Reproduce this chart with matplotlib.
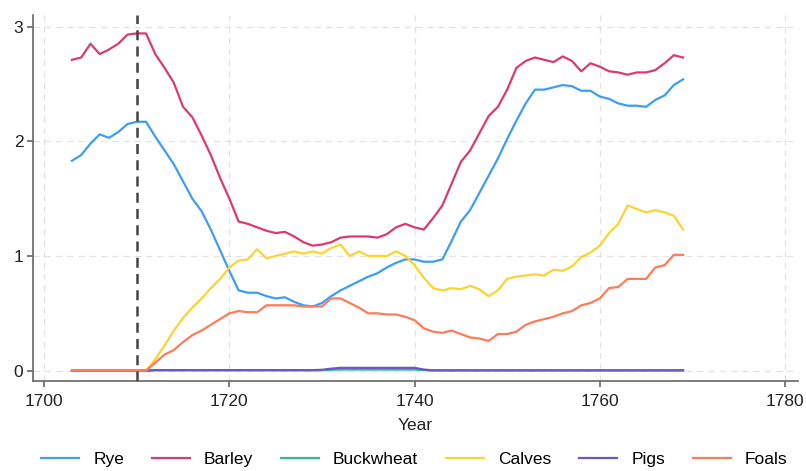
import numpy as np
import matplotlib
matplotlib.use("Agg")
import matplotlib.pyplot as plt

plt.rcParams['font.family'] = ['Liberation Sans', 'DejaVu Sans']

years = np.arange(1703, 1770)

rye = [1.83, 1.88, 1.98, 2.06, 2.03, 2.08, 2.15, 2.17, 2.17, 2.04,
       1.92, 1.80, 1.65, 1.50, 1.39, 1.23, 1.05, 0.87, 0.70, 0.68,
       0.68, 0.65, 0.63, 0.64, 0.60, 0.57, 0.56, 0.59, 0.65, 0.70,
       0.74, 0.78, 0.82, 0.85, 0.90, 0.94, 0.97, 0.97, 0.95, 0.95,
       0.97, 1.13, 1.30, 1.40, 1.55, 1.70, 1.85, 2.02, 2.18, 2.33,
       2.45, 2.45, 2.47, 2.49, 2.48, 2.44, 2.44, 2.39, 2.37, 2.33,
       2.31, 2.31, 2.30, 2.36, 2.40, 2.49, 2.54]

barley = [2.71, 2.73, 2.85, 2.76, 2.80, 2.85, 2.93, 2.94, 2.94, 2.76,
          2.64, 2.51, 2.30, 2.21, 2.05, 1.88, 1.68, 1.50, 1.30, 1.28,
          1.25, 1.22, 1.20, 1.21, 1.17, 1.12, 1.09, 1.10, 1.12, 1.16,
          1.17, 1.17, 1.17, 1.16, 1.19, 1.25, 1.28, 1.25, 1.23, 1.33,
          1.44, 1.63, 1.82, 1.92, 2.07, 2.22, 2.30, 2.45, 2.64, 2.70,
          2.73, 2.71, 2.69, 2.74, 2.70, 2.61, 2.68, 2.65, 2.61, 2.60,
          2.58, 2.60, 2.60, 2.62, 2.68, 2.75, 2.73]

buckwheat = [0.0] * 8 + [0.0, 0.004, 0.004, 0.004, 0.004, 0.004, 0.004,
             0.004, 0.004, 0.004, 0.004, 0.004, 0.004, 0.004, 0.004, 0.004,
             0.004, 0.004, 0.004, 0.004, 0.008, 0.010, 0.010, 0.010, 0.010,
             0.010, 0.010, 0.010, 0.010, 0.010, 0.005] + [0.003] * 28

calves = [0.0] * 9 + [0.10, 0.22, 0.35, 0.46, 0.55, 0.63, 0.72, 0.80,
          0.90, 0.96, 0.97, 1.06, 0.98, 1.00, 1.02, 1.04, 1.02, 1.04,
          1.02, 1.07, 1.10, 1.00, 1.04, 1.00, 1.00, 1.00, 1.04, 1.00,
          0.92, 0.81, 0.72, 0.70, 0.72, 0.71, 0.74, 0.71, 0.65, 0.70,
          0.80, 0.82, 0.83, 0.84, 0.83, 0.88, 0.87, 0.91, 0.99, 1.03,
          1.09, 1.20, 1.28, 1.44, 1.41, 1.38, 1.40, 1.38, 1.35, 1.23]

pigs = [0.0] * 8 + [0.0, 0.005, 0.005, 0.005, 0.005, 0.005, 0.005,
        0.005, 0.005, 0.005, 0.005, 0.005, 0.005, 0.005, 0.005, 0.005,
        0.005, 0.005, 0.005, 0.008, 0.018, 0.025, 0.025, 0.025, 0.025,
        0.025, 0.025, 0.025, 0.025, 0.025, 0.010] + [0.003] * 28

foals = [0.0] * 9 + [0.07, 0.14, 0.18, 0.25, 0.31, 0.35, 0.40, 0.45,
         0.50, 0.52, 0.51, 0.51, 0.57, 0.57, 0.57, 0.57, 0.56, 0.56,
         0.56, 0.63, 0.63, 0.59, 0.55, 0.50, 0.50, 0.49, 0.49, 0.47,
         0.44, 0.37, 0.34, 0.33, 0.35, 0.32, 0.29, 0.28, 0.26, 0.32,
         0.32, 0.34, 0.40, 0.43, 0.45, 0.47, 0.50, 0.52, 0.57, 0.59,
         0.63, 0.72, 0.73, 0.80, 0.80, 0.80, 0.90, 0.92, 1.01, 1.01]

series = [
    ("Rye", rye, "#3d9df5"),
    ("Barley", barley, "#dc3a6c"),
    ("Buckwheat", buckwheat, "#2cbf8d"),
    ("Calves", calves, "#fdd332"),
    ("Pigs", pigs, "#6a56c4"),
    ("Foals", foals, "#ff7b57"),
]

fig = plt.figure(figsize=(8.06, 4.71), dpi=100)
ax = fig.add_axes([0.041, 0.191, 0.949, 0.777])

for name, vals, col in series:
    ax.plot(years, vals, color=col, lw=1.6, label=name)

ax.axvline(1710, color="#444444", lw=1.8, ls=(0, (4, 2.5)), zorder=5)

ax.set_xlim(1698.8, 1781.4)
ax.set_ylim(-0.09, 3.1)
ax.set_xticks([1700, 1720, 1740, 1760, 1780])
ax.set_yticks([0, 1, 2, 3])
ax.grid(True, color="#e3e3e3", ls=(0, (5, 4)), lw=0.9)
ax.set_axisbelow(True)

for side in ("top", "right"):
    ax.spines[side].set_visible(False)
for side in ("left", "bottom"):
    ax.spines[side].set_color("#666666")
    ax.spines[side].set_linewidth(1.2)
ax.tick_params(colors="#666666", labelcolor="#222222", labelsize=12.5,
               length=4, width=1.2)
ax.tick_params(axis="x", pad=5)
ax.tick_params(axis="y", pad=3)

ax.set_xlabel("Year", fontsize=12.5, color="#222222", labelpad=7)

fig.legend(loc="center", bbox_to_anchor=(0.514, 0.024), ncol=6,
           frameon=False, fontsize=12.5, handlelength=2.2,
           columnspacing=1.6, handletextpad=0.8, borderaxespad=0)

fig.savefig("out.png", dpi=100)
